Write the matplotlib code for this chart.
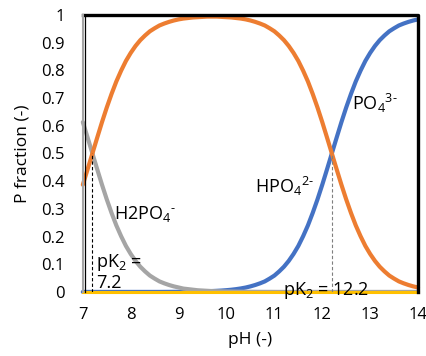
import numpy as np
import matplotlib.pyplot as plt
from matplotlib.ticker import FuncFormatter

plt.rcParams['font.family'] = ['Open Sans', 'DejaVu Sans']
plt.rcParams['mathtext.fontset'] = 'custom'
plt.rcParams['mathtext.rm'] = 'Open Sans'
plt.rcParams['mathtext.it'] = 'Open Sans'

# values
ph = [round(7 + 0.1 * i, 1) for i in range(71)]
h2po4 = [0.613, 0.557, 0.5, 0.443, 0.387, 0.334, 0.285, 0.240, 0.201, 0.166,
         0.137, 0.112, 0.091, 0.074, 0.059, 0.048, 0.038, 0.031, 0.025, 0.020,
         0.016, 0.012, 0.010, 0.008, 0.006, 0.005, 0.004, 0.003, 0.0025, 0.002,
         0.0016, 0.0013, 0.001, 0.0008, 0.0006, 0.0005, 0.0004, 0.0003, 0.0002, 0.0002,
         0.0001, 0, 0, 0, 0, 0, 0, 0, 0, 0,
         0, 0, 0, 0, 0, 0, 0, 0, 0, 0,
         0, 0, 0, 0, 0, 0, 0, 0, 0, 0, 0]
hpo4 = [0.387, 0.443, 0.5, 0.557, 0.613, 0.666, 0.715, 0.760, 0.799, 0.834,
        0.863, 0.888, 0.909, 0.926, 0.941, 0.952, 0.962, 0.969, 0.975, 0.980,
        0.984, 0.987, 0.989, 0.991, 0.992, 0.993, 0.994, 0.994, 0.994, 0.993,
        0.992, 0.991, 0.989, 0.987, 0.984, 0.980, 0.975, 0.969, 0.962, 0.952,
        0.941, 0.926, 0.909, 0.888, 0.863, 0.834, 0.799, 0.760, 0.715, 0.666,
        0.613, 0.557, 0.5, 0.443, 0.387, 0.334, 0.285, 0.240, 0.201, 0.166,
        0.137, 0.112, 0.091, 0.074, 0.059, 0.048, 0.038, 0.031, 0.025, 0.020, 0.016]
po4 = [0, 0, 0, 0, 0, 0, 0, 0, 0, 0,
       0, 0, 0, 0, 0, 0, 0, 0.0001, 0.0002, 0.0003,
       0.0004, 0.0005, 0.001, 0.0013, 0.0016, 0.002, 0.0025, 0.0032, 0.004, 0.005,
       0.0063, 0.0079, 0.010, 0.0126, 0.0158, 0.020, 0.025, 0.031, 0.038, 0.048,
       0.059, 0.074, 0.091, 0.112, 0.137, 0.166, 0.201, 0.240, 0.285, 0.334,
       0.387, 0.443, 0.5, 0.557, 0.613, 0.666, 0.715, 0.760, 0.799, 0.834,
       0.863, 0.888, 0.909, 0.926, 0.941, 0.952, 0.962, 0.969, 0.975, 0.980, 0.984]
h3po4 = [0] * len(ph)

pk2 = 7.2
pk3 = 12.2

fig = plt.figure(figsize=(4.27, 3.56), dpi=100)
ax = fig.add_axes([0.194, 0.180, 0.785, 0.778])

ax.plot(ph, po4, color='#4472C4', lw=3, solid_capstyle='round', clip_on=False)
ax.plot(ph, h2po4, color='#A5A5A5', lw=3, solid_capstyle='round', clip_on=False)
ax.plot(ph, hpo4, color='#ED7D31', lw=3, solid_capstyle='round', clip_on=False)
ax.plot(ph, h3po4, color='#FFC000', lw=2.2, clip_on=False)

# pK lines
ax.plot([pk2, pk2], [0, 0.5], color='black', lw=0.8, ls=(0, (3, 2)))
ax.plot([pk3, pk3], [0, 0.5], color='#7f7f7f', lw=0.8, ls=(0, (3, 2)))

# black frame
ax.plot([7, 14, 14], [1, 1, 0], color='black', lw=2.4, clip_on=False)
ax.plot([7.05, 7.05], [0, 1], color='black', lw=0.9, clip_on=False)

fs = 13
ax.text(7.65, 0.28, r'H2PO$_4$$^{\text{-}}$', fontsize=fs, va='center')
ax.text(10.6, 0.38, r'HPO$_4$$^{2\text{-}}$', fontsize=fs, va='center')
ax.text(12.62, 0.68, r'PO$_4$$^{3\text{-}}$', fontsize=fs, va='center')
ax.text(7.27, 0.105, 'pK$_2$ =', fontsize=fs, va='center')
ax.text(7.27, 0.033, '7.2', fontsize=fs, va='center')
ax.text(11.18, 0.005, 'pK$_2$ = 12.2', fontsize=fs, va='center')

ax.set_xlim(7, 14)
ax.set_ylim(0, 1)
ax.set_xticks(range(7, 15))
ax.set_yticks(np.arange(0, 1.01, 0.1))
ax.yaxis.set_major_formatter(FuncFormatter(lambda v, p: f'{v:.1f}'.rstrip('0').rstrip('.') if v else '0'))
ax.tick_params(length=0, labelsize=12)
ax.tick_params(axis='y', pad=13)
ax.tick_params(axis='x', pad=11)
for s in ['top', 'right', 'bottom']:
    ax.spines[s].set_visible(False)
ax.spines['left'].set_color('#A5A5A5')
ax.spines['left'].set_linewidth(1.5)

ax.set_xlabel('pH (-)', fontsize=12.5, labelpad=6)
ax.set_ylabel('P fraction (-)', fontsize=12.5, labelpad=8)

fig.savefig('out.png', dpi=100)
